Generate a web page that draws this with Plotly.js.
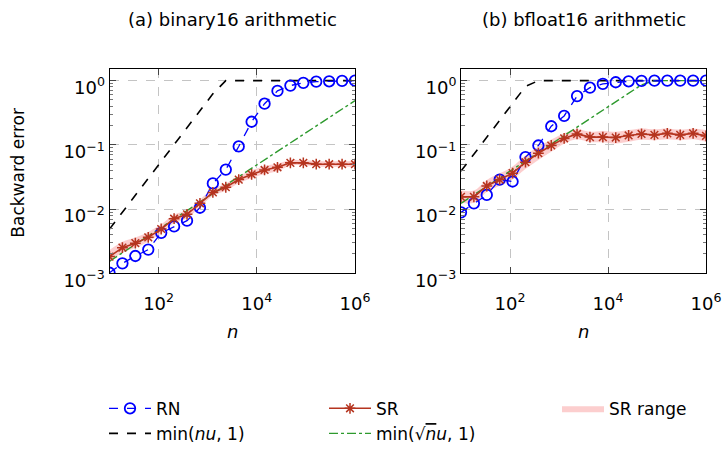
<!DOCTYPE html>
<html>
<head>
<meta charset="utf-8">
<script src="https://cdn.plot.ly/plotly-3.0.1.min.js"></script>
<style>html,body{margin:0;padding:0;background:#fff;}#chart{width:722px;height:452px;}</style>
</head>
<body>
<div id="chart"></div>
<script>
// problem sizes n (20 log-spaced points)
const nValues = [10, 18.33, 33.6, 61.58, 112.9, 206.9, 379.3, 695.2, 1274, 2336, 4281, 7848, 14384, 26367, 48329, 88587, 162378, 297635, 545559, 1000000];

// (a) binary16
const rnBinary16 = [1.02e-3, 1.43e-3, 1.86e-3, 2.34e-3, 4.27e-3, 5.37e-3, 6.6e-3, 0.0105, 0.0251, 0.0412, 0.0944, 0.229, 0.437, 0.692, 0.838, 0.923, 0.966, 0.977, 0.99, 1.0];
const srBinary16 = [1.82e-3, 2.51e-3, 2.95e-3, 3.63e-3, 4.9e-3, 7.08e-3, 8.3e-3, 0.0123, 0.0182, 0.0219, 0.0288, 0.0347, 0.0407, 0.0447, 0.0525, 0.0525, 0.0501, 0.05, 0.05, 0.05];
const srMaxBinary16 = [2.3e-3, 3.1e-3, 3.6e-3, 4.4e-3, 5.8e-3, 8.2e-3, 9.6e-3, 0.0140, 0.0205, 0.0250, 0.0330, 0.0400, 0.0470, 0.0510, 0.0580, 0.0575, 0.0560, 0.0555, 0.0555, 0.0560];
const srMinBinary16 = [1.5e-3, 2.1e-3, 2.5e-3, 3.1e-3, 4.2e-3, 6.1e-3, 7.2e-3, 0.0108, 0.0162, 0.0193, 0.0252, 0.0302, 0.0352, 0.0390, 0.0475, 0.0480, 0.0460, 0.0455, 0.0455, 0.0450];
const nuN_binary16 = [10, 1274, 2336, 1000000];
const nuV_binary16 = [0.00488, 0.622, 1, 1];
const sqrtN_binary16 = [10, 1000000];
const sqrtV_binary16 = [0.00154, 0.488];

// (b) bfloat16
const rnBfloat16 = [8.9e-3, 0.0123, 0.0166, 0.0288, 0.0269, 0.0646, 0.0977, 0.195, 0.282, 0.575, 0.776, 0.891, 0.944, 0.977, 0.99, 1.0, 1.0, 1.0, 1.0, 1.0];
const srBfloat16 = [0.0155, 0.0155, 0.0229, 0.0288, 0.0363, 0.0537, 0.0741, 0.0977, 0.126, 0.148, 0.132, 0.132, 0.130, 0.140, 0.148, 0.143, 0.151, 0.143, 0.151, 0.138];
const srMaxBfloat16 = [0.0195, 0.0195, 0.0285, 0.036, 0.046, 0.068, 0.094, 0.121, 0.152, 0.175, 0.160, 0.165, 0.160, 0.170, 0.180, 0.175, 0.180, 0.172, 0.180, 0.170];
const srMinBfloat16 = [0.0125, 0.0125, 0.0185, 0.023, 0.029, 0.042, 0.058, 0.078, 0.104, 0.122, 0.110, 0.110, 0.105, 0.112, 0.120, 0.118, 0.122, 0.118, 0.122, 0.112];
const nuN_bfloat16 = [10, 206.9, 379.3, 1000000];
const nuV_bfloat16 = [0.039, 0.81, 1, 1];
const sqrtN_bfloat16 = [10, 48329, 88587, 1000000];
const sqrtV_bfloat16 = [0.0123, 0.86, 1, 1];

const xTickVals = [100, 10000, 1000000];
const xTickText = ['10<sup>2</sup>', '10<sup>4</sup>', '10<sup>6</sup>'];
const yTickVals = [0.001, 0.01, 0.1, 1];
const yTickText = ['10<sup>−3</sup>', '10<sup>−2</sup>', '10<sup>−1</sup>', '10<sup>0</sup>'];

const FONT = 'DejaVu Sans, sans-serif';
const BLUE = '#0000ff', RED = '#b5341f', GREEN = '#2e9a2e', PINK = 'rgba(250,165,165,0.55)';

function panel(xa, ya, rn, sr, srMin, srMax, nuN, nuV, sqN, sqV, leg) {
  return [
    {x: nValues, y: srMin, xaxis: xa, yaxis: ya, mode: 'lines', line: {width: 0, shape: 'spline'}, showlegend: false, hoverinfo: 'skip'},
    {x: nValues, y: srMax, xaxis: xa, yaxis: ya, mode: 'lines', fill: 'tonexty', fillcolor: PINK, line: {width: 0, shape: 'spline'}, name: 'SR range', legend: 'legend3', showlegend: leg},
    {x: nuN, y: nuV, xaxis: xa, yaxis: ya, mode: 'lines', line: {color: '#000', width: 1.6, dash: 'dash'}, name: 'min(<i>nu</i>, 1)', legend: 'legend', legendrank: 2, showlegend: leg},
    {x: sqN, y: sqV, xaxis: xa, yaxis: ya, mode: 'lines', line: {color: GREEN, width: 1.4, dash: 'dashdot'}, name: 'min(√<span style="text-decoration:overline"><i>n</i></span><i>u</i>, 1)', legend: 'legend2', legendrank: 2, showlegend: leg},
    {x: nValues, y: rn, xaxis: xa, yaxis: ya, mode: 'lines+markers', line: {color: BLUE, width: 1.3, dash: 'dash'}, marker: {symbol: 'circle-open', size: 10.5, color: BLUE, line: {width: 1.8, color: BLUE}}, name: 'RN', legend: 'legend', legendrank: 1, showlegend: leg},
    {x: nValues, y: sr, xaxis: xa, yaxis: ya, mode: 'lines+markers', line: {color: RED, width: 1.6}, marker: {symbol: 'asterisk-open', size: 9, color: RED, line: {width: 1.5, color: RED}}, name: 'SR', legend: 'legend2', legendrank: 1, showlegend: leg}
  ];
}

const data = [].concat(
  panel('x', 'y', rnBinary16, srBinary16, srMinBinary16, srMaxBinary16, nuN_binary16, nuV_binary16, sqrtN_binary16, sqrtV_binary16, true),
  panel('x2', 'y2', rnBfloat16, srBfloat16, srMinBfloat16, srMaxBfloat16, nuN_bfloat16, nuV_bfloat16, sqrtN_bfloat16, sqrtV_bfloat16, false)
);

function xAxis(domain, anchor) {
  return {
    type: 'log', domain: domain, anchor: anchor, range: [1, 6],
    tickmode: 'array', tickvals: xTickVals, ticktext: xTickText,
    ticks: 'inside', ticklen: 6, tickcolor: '#444', tickwidth: 1,
    ticklabelstandoff: 14,
    showline: true, linecolor: '#000', linewidth: 1, mirror: 'allticks',
    showgrid: true, gridcolor: '#c4c4c4', griddash: 'dash', gridwidth: 1,
    zeroline: false, tickfont: {family: FONT, size: 18, color: '#000'}
  };
}
function yAxis(domain, anchor) {
  return {
    type: 'log', domain: domain, anchor: anchor, range: [-3, 0.18],
    tickmode: 'array', tickvals: yTickVals, ticktext: yTickText,
    ticks: 'inside', ticklen: 6, tickcolor: '#444', tickwidth: 1,
    ticklabelshift: 7,
    minor: {ticks: 'inside', ticklen: 3.5, tickcolor: '#777', dtick: 'D1', showgrid: false},
    showline: true, linecolor: '#000', linewidth: 1, mirror: 'allticks',
    showgrid: true, gridcolor: '#c4c4c4', griddash: 'dash', gridwidth: 1,
    zeroline: false, tickfont: {family: FONT, size: 18, color: '#000'}
  };
}

const yDom = [1 - 277 / 452, 1 - 70 / 452];
const legendBase = {orientation: 'v', bgcolor: 'rgba(0,0,0,0)', borderwidth: 0, font: {family: FONT, size: 17, color: '#000'}, itemwidth: 42, tracegroupgap: 7, xanchor: 'left', yanchor: 'top', yref: 'paper', traceorder: 'normal'};

const layout = {
  width: 722, height: 452,
  margin: {l: 0, r: 0, t: 0, b: 0},
  paper_bgcolor: '#fff', plot_bgcolor: '#fff',
  font: {family: FONT, size: 17, color: '#000'},
  xaxis: xAxis([109.5 / 722, 355 / 722], 'y'),
  yaxis: yAxis(yDom, 'x'),
  xaxis2: xAxis([461 / 722, 706 / 722], 'y2'),
  yaxis2: yAxis(yDom, 'x2'),
  legend: Object.assign({}, legendBase, {x: 104 / 722, y: 1 - 396 / 452}),
  legend2: Object.assign({}, legendBase, {x: 324 / 722, y: 1 - 396 / 452}),
  legend3: Object.assign({}, legendBase, {x: 557 / 722, y: 1 - 396 / 452}),
  annotations: [
    {text: '(a) binary16 arithmetic', xref: 'paper', yref: 'paper', x: 232 / 722, y: 1 - 20 / 452, xanchor: 'center', yanchor: 'middle', showarrow: false, font: {family: FONT, size: 18}},
    {text: '(b) bfloat16 arithmetic', xref: 'paper', yref: 'paper', x: 583.5 / 722, y: 1 - 20 / 452, xanchor: 'center', yanchor: 'middle', showarrow: false, font: {family: FONT, size: 18}},
    {text: 'Backward error', xref: 'paper', yref: 'paper', x: 18 / 722, y: 1 - 175 / 452, xanchor: 'center', yanchor: 'middle', textangle: -90, showarrow: false, font: {family: FONT, size: 17}},
    {text: '<i>n</i>', xref: 'paper', yref: 'paper', x: 232 / 722, y: 1 - 336 / 452, xanchor: 'center', yanchor: 'middle', showarrow: false, font: {family: FONT, size: 18}},
    {text: '<i>n</i>', xref: 'paper', yref: 'paper', x: 583.5 / 722, y: 1 - 336 / 452, xanchor: 'center', yanchor: 'middle', showarrow: false, font: {family: FONT, size: 18}}
  ]
};

Plotly.newPlot('chart', data, layout, {staticPlot: true, displayModeBar: false});
</script>
</body>
</html>
